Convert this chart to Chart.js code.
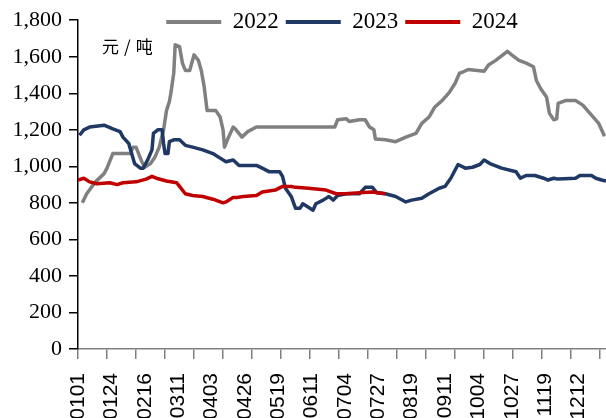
<!DOCTYPE html>
<html>
<head>
<meta charset="utf-8">
<script src="https://cdn.jsdelivr.net/npm/chart.js@4.4.1/dist/chart.umd.min.js"></script>
<style>
  body { margin: 0; background: #fff; }
  #wrap { width: 606px; height: 418px; position: relative; }
</style>
</head>
<body>
<div id="wrap"><canvas id="myChart"></canvas></div>
<script>
// x axis labels, one every 23 days
var tickLabels = ["0101", "0124", "0216", "0311", "0403", "0426", "0519", "0611",
  "0704", "0727", "0819", "0911", "1004", "1027", "1119", "1212"];

// day of year (0 = Jan 1) and price
var days2022 = [3, 6, 12, 18, 20, 24, 36, 38, 40, 44, 46, 50, 53, 56, 59, 61, 63, 64, 66, 67,
  70, 72, 74, 77, 80, 83, 85, 87, 89, 95, 98, 100, 101, 103, 107, 109, 113, 117, 123, 177,
  179, 185, 187, 194, 198, 201, 204, 205, 212, 219, 226, 233, 237, 242, 246, 251, 256, 260,
  263, 265, 269, 280, 283, 288, 296, 299, 304, 309, 314, 316, 319, 323, 325, 328, 330, 331,
  336, 343, 348, 354, 359, 363];
var vals2022 = [800, 850, 915, 960, 990, 1070, 1070, 1105, 1105, 1025, 995, 1015, 1050, 1105, 1200, 1305, 1355, 1400, 1510, 1665,
  1655, 1565, 1525, 1525, 1610, 1580, 1525, 1435, 1305, 1305, 1270, 1200, 1105, 1145, 1215, 1200, 1160, 1190, 1215, 1215,
  1255, 1260, 1245, 1255, 1255, 1215, 1200, 1150, 1145, 1135, 1160, 1180, 1235, 1270, 1325, 1360, 1405, 1455,
  1510, 1515, 1530, 1520, 1555, 1580, 1630, 1610, 1580, 1565, 1545, 1470, 1425, 1380, 1290, 1255, 1260, 1345,
  1360, 1360, 1335, 1280, 1235, 1165];

var days2023 = [1, 4, 8, 18, 24, 29, 31, 35, 37, 39, 43, 45, 48, 51, 52, 55, 58, 59, 60, 62,
  63, 66, 70, 74, 79, 86, 93, 98, 102, 107, 111, 123, 127, 132, 139, 141, 143, 147, 150, 153,
  155, 158, 162, 164, 169, 173, 176, 179, 185, 194, 198, 203, 206, 212, 219, 226, 230, 237,
  242, 249, 253, 257, 260, 262, 267, 272, 277, 280, 284, 292, 302, 305, 309, 315, 321, 324,
  328, 331, 343, 346, 354, 357, 361, 364];
var vals2023 = [1170, 1200, 1215, 1225, 1205, 1190, 1160, 1125, 1070, 1015, 990, 990, 1035, 1090, 1180, 1200, 1200, 1125, 1070, 1070,
  1135, 1145, 1145, 1115, 1105, 1090, 1070, 1045, 1025, 1035, 1005, 1005, 990, 970, 970, 945, 880, 835, 770, 770,
  795, 780, 760, 795, 815, 835, 815, 840, 850, 850, 885, 885, 855, 850, 835, 805, 815, 825,
  850, 880, 890, 935, 980, 1010, 990, 995, 1010, 1035, 1015, 990, 970, 935, 950, 950, 935, 925,
  935, 930, 935, 950, 950, 935, 925, 920];

var days2024 = [0, 4, 8, 13, 22, 27, 31, 40, 47, 51, 54, 61, 68, 70, 74, 79, 86, 93, 100, 102,
  107, 110, 114, 123, 127, 136, 141, 147, 150, 159, 171, 178, 184, 194, 203, 212];
var vals2024 = [925, 935, 915, 905, 910, 900, 910, 915, 930, 945, 935, 920, 910, 890, 850, 840, 835, 820, 800, 805,
  830, 830, 835, 840, 860, 870, 890, 890, 885, 880, 870, 850, 850, 855, 860, 850];

function toPoints(d, v) {
  return d.map(function (x, i) { return { x: x, y: v[i] }; });
}

// x ticks: small marks every 20 days, labels every 23 days
var tickValues = [];
for (var t = 0; t <= 364; t++) {
  if (t % 20 === 0 || (t % 23 === 0 && t / 23 < tickLabels.length)) tickValues.push(t);
}

var unitLabel = {
  id: "unitLabel",
  beforeDraw: function (chart) {
    // legend sits inside the plot, up at the top line
    chart.legend.top = 3.5;
    chart.legend.bottom = 45;
  },
  afterDraw: function (chart) {
    var ctx = chart.ctx;
    ctx.save();
    ctx.font = '17px "Noto Sans CJK SC"';
    ctx.fillStyle = "#000";
    ctx.textBaseline = "middle";
    ctx.letterSpacing = "5px";
    ctx.fillText("元/吨", 102, 47);
    ctx.restore();
  }
};

var ctx = document.getElementById("myChart").getContext("2d");
var chart = new Chart(ctx, {
  type: "line",
  data: {
    datasets: [
      { label: "2022", data: toPoints(days2022, vals2022), borderColor: "#808080", backgroundColor: "#808080", order: 2 },
      { label: "2023", data: toPoints(days2023, vals2023), borderColor: "#1f3864", backgroundColor: "#1f3864", order: 1 },
      { label: "2024", data: toPoints(days2024, vals2024), borderColor: "#c00000", backgroundColor: "#c00000", order: 0 }
    ]
  },
  options: {
    responsive: true,
    maintainAspectRatio: false,
    animation: false,
    layout: { padding: { top: 19, right: 0, bottom: 0, left: 0 } },
    elements: {
      line: { borderWidth: 3.5, tension: 0, borderJoinStyle: "round" },
      point: { radius: 0 }
    },
    plugins: {
      tooltip: { enabled: false },
      legend: {
        position: "top",
        align: "center",
        fullSize: false,
        maxHeight: 1,
        labels: {
          boxWidth: 55,
          boxHeight: 4,
          padding: 7,
          color: "#000",
          font: { family: '"Liberation Serif", "Times New Roman", serif', size: 23 },
          sort: function (a, b) { return a.datasetIndex - b.datasetIndex; },
          generateLabels: function (chart) {
            var items = Chart.defaults.plugins.legend.labels.generateLabels(chart);
            items.forEach(function (it) { it.lineWidth = 0; });
            return items;
          }
        }
      }
    },
    scales: {
      x: {
        type: "linear",
        min: 0,
        max: 364,
        offset: false,
        afterBuildTicks: function (scale) {
          scale.ticks = tickValues.map(function (v) { return { value: v }; });
        },
        afterFit: function (scale) {
          scale.height = 69;
          scale.paddingLeft = 0;
          scale.paddingRight = 0;
        },
        border: { display: true, color: "#808080", width: 1.5 },
        grid: {
          drawOnChartArea: false,
          drawTicks: true,
          tickLength: 10,
          lineWidth: 1.5,
          color: function (c) {
            return c.tick && c.tick.value % 20 === 0 ? "#808080" : "rgba(0,0,0,0)";
          }
        },
        ticks: {
          autoSkip: false,
          minRotation: 90,
          maxRotation: 90,
          padding: 14,
          color: "#000",
          font: { family: '"Liberation Sans", Arial, sans-serif', size: 21 },
          callback: function (value) {
            return value % 23 === 0 ? tickLabels[value / 23] : "";
          }
        }
      },
      y: {
        min: 0,
        max: 1800,
        afterFit: function (scale) {
          scale.width = 78;
        },
        border: { display: true, color: "#000", width: 1.5 },
        grid: { drawOnChartArea: false, tickLength: 9, color: "#000", lineWidth: 1.5 },
        ticks: {
          stepSize: 200,
          padding: 7,
          color: "#000",
          font: { family: '"Liberation Serif", "Times New Roman", serif', size: 22 },
          callback: function (value) {
            return value.toLocaleString("en-US");
          }
        }
      }
    }
  },
  plugins: [unitLabel]
});
</script>
</body>
</html>
